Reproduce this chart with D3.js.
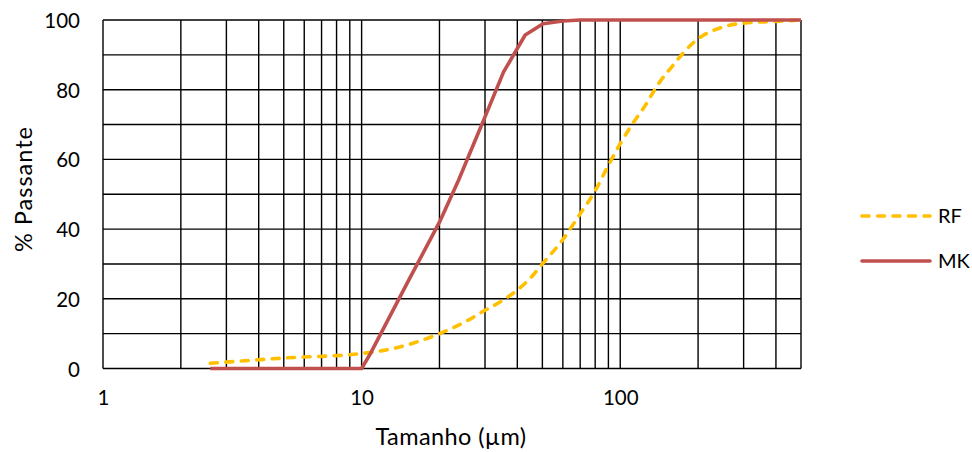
<!DOCTYPE html>
<html>
<head>
<meta charset="utf-8">
<script src="https://cdn.jsdelivr.net/npm/d3@7/dist/d3.min.js"></script>
<style>
html,body{margin:0;padding:0;background:#fff;}
svg{display:block;font-family:Lato,"Open Sans",sans-serif;}
</style>
</head>
<body>
<svg id="chart" width="972" height="452"></svg>
<script>
// ---- data ----
const rfSize = [2.6, 5, 10, 13, 16, 20, 25, 30, 35, 40, 45, 50, 60, 70, 80, 90, 100, 110, 125, 140, 160, 180, 200, 250, 300, 400, 500];
const rfPass = [1.5, 3.0, 4.3, 5.6, 7.4, 10, 13.3, 16.7, 19.5, 22.5, 26, 30, 37, 44.4, 51, 58.3, 64.5, 69.5, 75.5, 81.5, 87, 91.5, 94.6, 98, 99.1, 99.6, 100];
const mkSize = [2.6, 10, 10.8, 15, 20, 23.7, 27.5, 30, 35.4, 42.9, 50.3, 60, 70, 500];
const mkPass = [0, 0, 4.2, 24.5, 42, 54, 65.5, 72.2, 85.1, 95.7, 98.9, 99.7, 100, 100];
const xTickLabels = [1, 10, 100];
const yTickLabels = [0, 20, 40, 60, 80, 100];
const xGrid = [1,2,3,4,5,6,7,8,9,10,20,30,40,50,60,70,80,90,100,200,300,400,500];
const yGrid = [0,10,20,30,40,50,60,70,80,90,100];
const seriesNames = ["RF", "MK"];

(function () {
// ---- layout ----
const svg = d3.select("#chart");
const pLeft = 103, pRight = 801, pTop = 20, pBottom = 368.5;
const x = d3.scaleLog().domain([1, 500]).range([pLeft, pRight]);
const y = d3.scaleLinear().domain([0, 100]).range([pBottom, pTop]);

const grid = svg.append("g");
grid.selectAll("line.v").data(xGrid).join("line")
  .attr("x1", d => x(d)).attr("x2", d => x(d))
  .attr("y1", pTop).attr("y2", pBottom)
  .attr("stroke", "#000").attr("stroke-width", 1.4);
grid.selectAll("line.h").data(yGrid).join("line")
  .attr("x1", pLeft).attr("x2", pRight)
  .attr("y1", d => y(d)).attr("y2", d => y(d))
  .attr("stroke", "#000").attr("stroke-width", 1.4);

// axes (labels only)
const yAxis = d3.axisLeft(y).tickValues(yTickLabels).tickSize(0).tickPadding(23).tickFormat(d3.format("d"));
const gy = svg.append("g").attr("transform", `translate(${pLeft},1)`).call(yAxis);
gy.select(".domain").remove();
gy.selectAll("text").attr("font-size", 20.5).attr("fill", "#000").attr("font-family", "Lato");

const xAxis = d3.axisBottom(x).tickValues(xTickLabels).tickSize(0).tickPadding(22).tickFormat(d3.format("d"));
const gx = svg.append("g").attr("transform", `translate(0,${pBottom})`).call(xAxis);
gx.select(".domain").remove();
gx.selectAll("text").attr("font-size", 20.5).attr("fill", "#000").attr("font-family", "Lato");

// titles
svg.append("text").attr("x", 451).attr("y", 444.5).attr("text-anchor", "middle")
  .attr("font-size", 23.5).attr("letter-spacing", 0.4).attr("fill", "#000").text("Tamanho (µm)");
svg.append("text").attr("transform", "translate(31.5,189) rotate(-90)").attr("text-anchor", "middle")
  .attr("font-size", 23.5).attr("letter-spacing", 1).attr("fill", "#000").text("% Passante");

// lines
const rfData = rfSize.map((s, i) => [s, rfPass[i]]);
const mkData = mkSize.map((s, i) => [s, mkPass[i]]);

svg.append("path").datum(rfData)
  .attr("d", d3.line().x(d => x(d[0])).y(d => y(d[1])).curve(d3.curveMonotoneX))
  .attr("fill", "none").attr("stroke", "#FFC000").attr("stroke-width", 3.6)
  .attr("stroke-dasharray", "7,8.5").attr("stroke-linecap", "round");

svg.append("path").datum(mkData)
  .attr("d", d3.line().x(d => x(d[0])).y(d => y(d[1])).curve(d3.curveLinear))
  .attr("fill", "none").attr("stroke", "#C0504D").attr("stroke-width", 3.6)
  .attr("stroke-linejoin", "round");

// legend
const legend = svg.append("g");
const legY = [216, 261];
legend.append("line").attr("x1", 862).attr("x2", 930).attr("y1", legY[0]).attr("y2", legY[0])
  .attr("stroke", "#FFC000").attr("stroke-width", 3.6).attr("stroke-dasharray", "7,8.5").attr("stroke-linecap", "round");
legend.append("line").attr("x1", 862).attr("x2", 930).attr("y1", legY[1]).attr("y2", legY[1])
  .attr("stroke", "#C0504D").attr("stroke-width", 3.6).attr("stroke-linecap", "round");
legend.selectAll("text").data(seriesNames).join("text")
  .attr("x", 938).attr("y", (d, i) => legY[i]).attr("dy", "0.36em")
  .attr("font-size", 20).attr("fill", "#000").text(d => d);
})();
</script>
</body>
</html>
